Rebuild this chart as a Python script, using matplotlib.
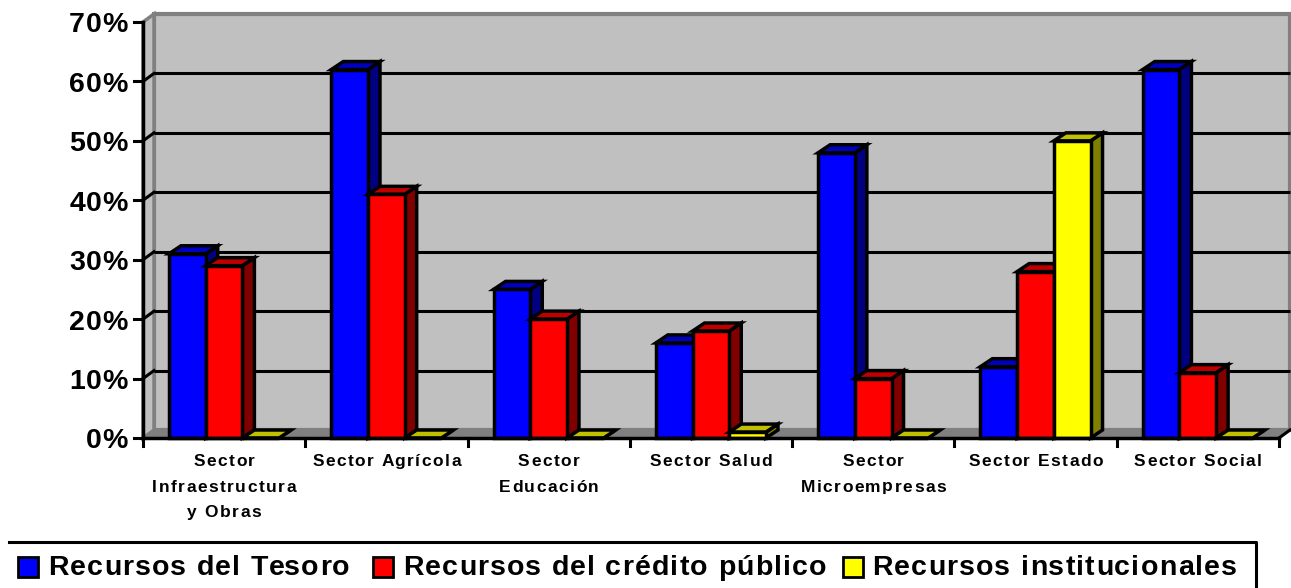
import matplotlib
matplotlib.use("Agg")
import matplotlib.pyplot as plt
from matplotlib.patches import Polygon, Rectangle
from matplotlib.text import Text
from matplotlib.transforms import IdentityTransform

plt.rcParams['font.family'] = ['Liberation Sans', 'DejaVu Sans']

# data
sectors = ["Sector\nInfraestructura\ny Obras", "Sector Agrícola", "Sector\nEducación",
           "Sector Salud", "Sector\nMicroempresas", "Sector Estado", "Sector Social"]
tesoro = [31, 62, 25, 16, 48, 12, 62]
credito = [29, 41, 20, 18, 10, 28, 11]
institucionales = [0, 0, 0, 1, 0, 50, 0]
series_names = ["Recursos del Tesoro", "Recursos del crédito público", "Recursos institucionales"]
yticks = [0, 10, 20, 30, 40, 50, 60, 70]

W, H = 1291, 588


# the reference has letter-spaced text, matplotlib has no option for that
class SpacedText(Text):
    def __init__(self, *args, tracking=0, line_px=0, **kwargs):
        super().__init__(*args, **kwargs)
        self.tracking = tracking
        self.line_px = line_px

    def draw(self, renderer):
        fp = self.get_fontproperties()

        def width(s):
            if not s:
                return 0
            return (renderer.get_text_width_height_descent(s + 'x', fp, False)[0]
                    - renderer.get_text_width_height_descent('x', fp, False)[0])

        x0, y0 = self.get_transform().transform(self.get_position())
        for n, line in enumerate(self.get_text().split('\n')):
            total = width(line) + self.tracking * (len(line) - 1)
            start = {'left': x0, 'center': x0 - total / 2, 'right': x0 - total}[self.get_ha()]
            for k, ch in enumerate(line):
                t = Text(start + width(line[:k]) + k * self.tracking, y0 - n * self.line_px, ch,
                         fontproperties=fp, color=self.get_color(), va='baseline', ha='left',
                         transform=IdentityTransform())
                t.set_figure(self.get_figure())
                t.draw(renderer)


fig = plt.figure(figsize=(W / 100, H / 100), dpi=100)
# axes = front plane of the 3d box, in pixels 143..1279 and 438..22
ax = fig.add_axes([143 / W, 1 - 438 / H, 1136 / W, 416 / H])
ax.set_xlim(0, 7)
ax.set_ylim(0, 70)
ax.axis('off')

# depth of the box and of the bars in data units
px_x = 7 / 1136
px_y = 70 / 416
dx = 11 * px_x
dy = 8 * px_y
bar_w = 36.7 * px_x
bar_dx = 12 * px_x
bar_dy = 8 * px_y
gap = 26 * px_x
lw = 2.5


def poly(pts, face, edge='black', width=lw, z=2):
    ax.add_patch(Polygon(pts, closed=True, facecolor=face, edgecolor=edge, linewidth=width,
                         zorder=z, clip_on=False, joinstyle='miter'))


# walls and floor
poly([(dx, dy), (7 + dx, dy), (7 + dx, 70 + dy), (dx, 70 + dy)], '#c0c0c0', '#808080', 3, 1)
poly([(0, 0), (dx, dy), (dx, 70 + dy), (0, 70)], '#c0c0c0', '#808080', 2.5, 1)
poly([(0, 0), (7, 0), (7 + dx, dy), (dx, dy)], '#808080', '#808080', 1, 1)

# gridlines on the back wall and their links on the side wall
for v in yticks[1:-1]:
    ax.plot([dx, 7 + dx], [v + dy, v + dy], color='black', lw=2.2, zorder=1.5, clip_on=False,
            solid_capstyle='butt')
    ax.plot([0, dx], [v, v + dy], color='black', lw=2.2, zorder=1.5, clip_on=False)

# axes lines and ticks
ax.plot([0, 0], [0, 70], color='black', lw=2.5, zorder=5, clip_on=False)
ax.plot([0, 7], [0, 0], color='black', lw=2.5, zorder=5, clip_on=False)
for v in yticks:
    ax.plot([-9 * px_x, 0], [v, v], color='black', lw=2.2, zorder=5, clip_on=False)
    ax.add_artist(SpacedText(-15 * px_x, v - 10.5 * px_y, f"{v}%", ha='right', va='baseline',
                             fontsize=20.5, fontweight='bold', tracking=1, transform=ax.transData))
for i in range(8):
    ax.plot([i, i], [0, -8 * px_y], color='black', lw=2.2, zorder=5, clip_on=False)
ax.plot([7, 7 + dx], [0, dy], color='black', lw=2.2, zorder=5, clip_on=False)


def bar3d(x0, v, front, top, side):
    x1 = x0 + bar_w
    poly([(x1, 0), (x1 + bar_dx, bar_dy), (x1 + bar_dx, v + bar_dy), (x1, v)], side)
    poly([(x0, v), (x1, v), (x1 + bar_dx, v + bar_dy), (x0 + bar_dx, v + bar_dy)], top)
    poly([(x0, 0), (x1, 0), (x1, v), (x0, v)], front)


colors = [('#0000ff', '#0000c0', '#000080'),
          ('#ff0000', '#c00000', '#800000'),
          ('#ffff00', '#c0c000', '#808000')]
for i in range(len(sectors)):
    # each series covers the side face of the one before it
    for j, vals in enumerate([tesoro, credito, institucionales]):
        bar3d(i + gap + j * bar_w, vals[i], *colors[j])
    ax.add_artist(SpacedText(i + 0.5, -28 * px_y, sectors[i], ha='center', va='baseline',
                             fontsize=12.5, fontweight='bold', tracking=1.5, line_px=25.5,
                             transform=ax.transData))

# legend box, runs off the bottom of the picture
fig.add_artist(plt.Line2D([9 / W, 1256 / W, 1256 / W], [1 - 541.5 / H, 1 - 541.5 / H, 0],
                          color='black', lw=2.2))
leg_x = [18, 373, 843]
leg_text_x = [48, 403, 872]
for k, name in enumerate(series_names):
    fig.add_artist(Rectangle((leg_x[k] / W, 1 - 577 / H), 20 / W, 20 / H, facecolor=colors[k][0],
                             edgecolor='black', lw=2, transform=fig.transFigure))
    fig.add_artist(SpacedText(leg_text_x[k] / W, 1 - 575 / H, name, ha='left', va='baseline',
                              fontsize=20.5, fontweight='bold', tracking=1.2,
                              transform=fig.transFigure))

fig.savefig("out.png", dpi=100)
